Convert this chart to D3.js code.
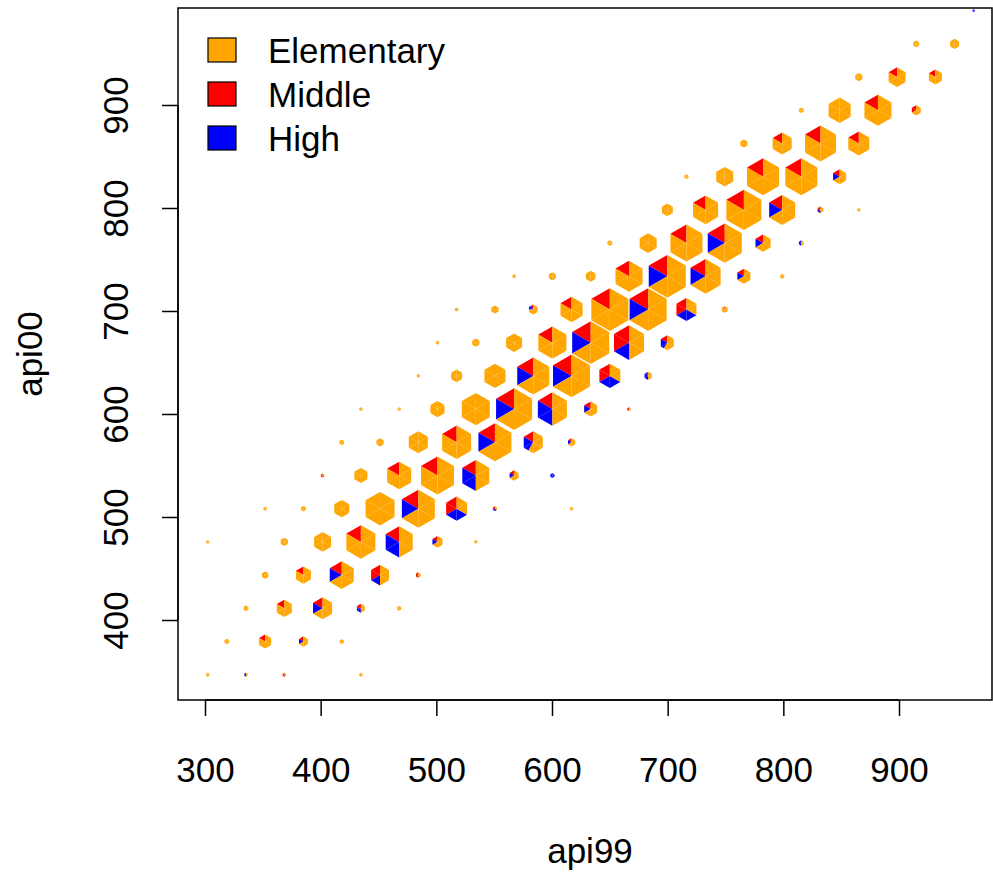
<!DOCTYPE html>
<html>
<head>
<meta charset="utf-8">
<script src="https://cdn.jsdelivr.net/npm/d3@7"></script>
<style>
  body { margin: 0; background: #fff; }
  text { font-family: "Liberation Sans", Arial, Helvetica, sans-serif; }
</style>
</head>
<body>
<svg></svg>
<script>
const width = 993;
const height = 874;

// school types, in legend order
const categories = ["Elementary", "Middle", "High"];
const catColors = ["#FFA500", "#FF0000", "#0000FF"];

const xTicks = [300, 400, 500, 600, 700, 800, 900];
const yTicks = [400, 500, 600, 700, 800, 900];

// hexbin grid (api units): first centre, half column step, row step
const gridX0 = 302.33;
const gridHalfStep = 16.556;
const gridY0 = 346.89;
const gridRowStep = 32.233;
const maxCount = 260;

// bins: [row, column, weighted count, share Middle, share High]
// (Elementary gets the rest)
const bins = [
  [0, 0, 2, 0, 0], [0, 2, 2, 0, 0.5], [0, 4, 2, 0.67, 0], [0, 8, 2, 0, 0],
  [1, 1, 4, 0, 0], [1, 3, 26, 0.167, 0], [1, 5, 14, 0.167, 0.167], [1, 7, 3, 0, 0],
  [2, 2, 4, 0, 0], [2, 4, 40, 0.167, 0], [2, 6, 64, 0.167, 0.167], [2, 8, 11, 0.25, 0.25], [2, 10, 3, 0, 0],
  [3, 3, 7, 0, 0], [3, 5, 40, 0.167, 0], [3, 7, 102, 0.167, 0.167], [3, 9, 57, 0.333, 0.167], [3, 11, 4, 0.5, 0],
  [4, 0, 2, 0, 0], [4, 4, 9, 0, 0], [4, 6, 51, 0, 0], [4, 8, 149, 0.167, 0], [4, 10, 129, 0.167, 0.333],
  [4, 12, 18, 0.167, 0.167], [4, 14, 2, 0, 0],
  [5, 3, 2, 0, 0], [5, 5, 4, 0, 0], [5, 7, 40, 0, 0], [5, 9, 149, 0, 0], [5, 11, 193, 0.167, 0.167],
  [5, 13, 78, 0.333, 0.333], [5, 15, 3, 0.333, 0.333], [5, 19, 2, 0, 0],
  [6, 6, 2, 0.67, 0], [6, 8, 30, 0, 0], [6, 10, 102, 0.167, 0], [6, 12, 193, 0.167, 0],
  [6, 14, 129, 0.167, 0.333], [6, 16, 14, 0.167, 0.167], [6, 18, 3, 0, 1],
  [7, 7, 4, 0, 0], [7, 9, 9, 0, 0], [7, 11, 64, 0, 0], [7, 13, 149, 0.167, 0], [7, 15, 193, 0.167, 0.167],
  [7, 17, 64, 0.167, 0.25], [7, 19, 9, 0.167, 0.167],
  [8, 8, 2, 0, 0], [8, 10, 2, 0, 0], [8, 12, 35, 0, 0], [8, 14, 139, 0, 0], [8, 16, 230, 0.167, 0.167],
  [8, 18, 149, 0.167, 0.333], [8, 20, 30, 0.167, 0.167], [8, 22, 2, 0.5, 0],
  [9, 11, 2, 0, 0], [9, 13, 21, 0, 0], [9, 15, 78, 0, 0], [9, 17, 182, 0.167, 0.167], [9, 19, 243, 0.167, 0.167],
  [9, 21, 78, 0.333, 0.333], [9, 23, 9, 0.083, 0.417],
  [10, 12, 2, 0, 0], [10, 14, 9, 0, 0], [10, 16, 45, 0, 0], [10, 18, 139, 0.167, 0], [10, 20, 243, 0.167, 0.167],
  [10, 22, 160, 0.333, 0.167], [10, 24, 30, 0.167, 0.25],
  [11, 13, 2, 0, 0], [11, 15, 9, 0, 0], [11, 17, 13, 0.083, 0.167], [11, 19, 86, 0.167, 0], [11, 21, 243, 0.167, 0],
  [11, 23, 243, 0.167, 0.167], [11, 25, 71, 0.333, 0.333], [11, 27, 6, 0.083, 0],
  [12, 16, 2, 0, 0], [12, 18, 9, 0, 0], [12, 20, 16, 0, 0], [12, 22, 129, 0.167, 0], [12, 24, 243, 0.167, 0.167],
  [12, 26, 160, 0.167, 0.167], [12, 28, 30, 0.167, 0.167], [12, 30, 3, 0, 0],
  [13, 21, 4, 0, 0], [13, 23, 51, 0, 0], [13, 25, 182, 0.167, 0], [13, 27, 205, 0.167, 0.167],
  [13, 29, 40, 0.167, 0.167], [13, 31, 4, 0, 0.5],
  [14, 24, 21, 0, 0], [14, 26, 111, 0.167, 0], [14, 28, 217, 0.167, 0], [14, 30, 120, 0.167, 0.167],
  [14, 32, 6, 0.25, 0.25], [14, 34, 2, 0, 0],
  [15, 25, 3, 0, 0], [15, 27, 51, 0, 0], [15, 29, 182, 0.167, 0], [15, 31, 182, 0.167, 0], [15, 33, 30, 0.167, 0.167],
  [16, 28, 9, 0, 0], [16, 30, 64, 0.167, 0], [16, 32, 170, 0.167, 0], [16, 34, 78, 0.167, 0],
  [17, 31, 4, 0, 0], [17, 33, 86, 0, 0], [17, 35, 129, 0.167, 0], [17, 37, 14, 0.333, 0],
  [18, 34, 9, 0, 0], [18, 36, 51, 0.167, 0], [18, 38, 30, 0.167, 0],
  [19, 37, 6, 0, 0], [19, 39, 14, 0, 0],
  [20, 40, 1, 0, 1]
];

const plot = { left: 178, right: 992, top: 8, bottom: 700 };

let svg = d3.select("svg")
    .attr("width", width)
    .attr("height", height);

let x = d3.scaleLinear()
    .domain([276.66, 980.4])
    .range([plot.left, plot.right]);
let y = d3.scaleLinear()
    .domain([322.33, 994.17])
    .range([plot.bottom, plot.top]);
// hexagon circumradius (px) from the bin count, area ~ count
let r = d3.scaleSqrt()
    .domain([0, maxCount])
    .range([0, 22.11]);

// point on the hexagon border (pointy top) at angle a (degrees, ccw from east)
function border(cx, cy, R, a, sector) {
    const normal = 120 + 60 * sector;
    const d = R * Math.cos(Math.PI / 6) / Math.cos((a - normal) * Math.PI / 180);
    return [cx + d * Math.cos(a * Math.PI / 180), cy - d * Math.sin(a * Math.PI / 180)];
}

// split every bin into sector triangles coloured by school type
let pieces = [];
bins.forEach(b => {
    const [row, col, n, pM, pH] = b;
    const cx = x(gridX0 + col * gridHalfStep);
    const cy = y(gridY0 + row * gridRowStep);
    const R = r(n);
    // Middle first, then High, then Elementary, ccw from the top vertex
    const shares = [[1, pM], [2, pH], [0, 1 - pM - pH]];
    let start = 90;
    shares.forEach(([cat, p]) => {
        const end = start + p * 360;
        for (let k = 0; k < 6; k++) {
            const s0 = 90 + 60 * k, s1 = s0 + 60;
            const a = Math.max(start, s0), e = Math.min(end, s1);
            if (e - a > 0.01) {
                pieces.push({
                    cat: cat,
                    pts: [[cx, cy], border(cx, cy, R, a, k), border(cx, cy, R, e, k)]
                });
            }
        }
        start = end;
    });
});

svg.append("g")
    .selectAll("polygon")
    .data(pieces)
    .enter()
    .append("polygon")
    .attr("points", d => d.pts.map(p => p.join(",")).join(" "))
    .style("fill", d => catColors[d.cat]);

// box
svg.append("rect")
    .attr("x", plot.left)
    .attr("y", plot.top)
    .attr("width", plot.right - plot.left)
    .attr("height", plot.bottom - plot.top)
    .style("fill", "none")
    .style("stroke", "#000")
    .style("stroke-width", 1.5);

// axes
let axisX = d3.axisBottom(x).tickValues(xTicks).tickSize(16).tickPadding(30);
let gx = svg.append("g")
    .attr("transform", `translate(0, ${plot.bottom})`)
    .call(axisX);
gx.select(".domain")
    .attr("d", `M${x(xTicks[0])},0H${x(xTicks[xTicks.length - 1])}`)
    .style("stroke-width", 1.5);
gx.selectAll(".tick line").style("stroke-width", 1.5);
gx.selectAll("text")
    .attr("y", 0)
    .attr("dy", 0)
    .attr("transform", "translate(0, 82)")
    .style("font-size", "35px")
    .style("font-family", "Liberation Sans, Arial, sans-serif")
    .style("fill", "#000");

let axisY = d3.axisLeft(y).tickValues(yTicks).tickSize(16);
let gy = svg.append("g")
    .attr("transform", `translate(${plot.left}, 0)`)
    .call(axisY);
gy.select(".domain")
    .attr("d", `M0,${y(yTicks[0])}V${y(yTicks[yTicks.length - 1])}`)
    .style("stroke-width", 1.5);
gy.selectAll(".tick line").style("stroke-width", 1.5);
gy.selectAll("text")
    .attr("x", 0)
    .attr("dy", 0)
    .attr("transform", "translate(-50.5, 0) rotate(-90)")
    .style("text-anchor", "middle")
    .style("font-size", "35px")
    .style("font-family", "Liberation Sans, Arial, sans-serif")
    .style("fill", "#000");

// axis titles
svg.append("text")
    .attr("x", 590)
    .attr("y", 863)
    .attr("text-anchor", "middle")
    .style("font-size", "35px")
    .text("api99");
svg.append("text")
    .attr("transform", `translate(42, ${(plot.top + plot.bottom) / 2}) rotate(-90)`)
    .attr("text-anchor", "middle")
    .style("font-size", "35px")
    .text("api00");

// legend
let legend = svg.append("g");
categories.forEach((c, i) => {
    const ly = 50 + i * 44;
    legend.append("rect")
        .attr("x", 208)
        .attr("y", ly - 12)
        .attr("width", 28)
        .attr("height", 24)
        .style("fill", catColors[i])
        .style("stroke", "#000")
        .style("stroke-width", 1.2);
    legend.append("text")
        .attr("x", 268)
        .attr("y", ly + 12.5)
        .style("font-size", "35px")
        .text(c);
});
</script>
</body>
</html>
